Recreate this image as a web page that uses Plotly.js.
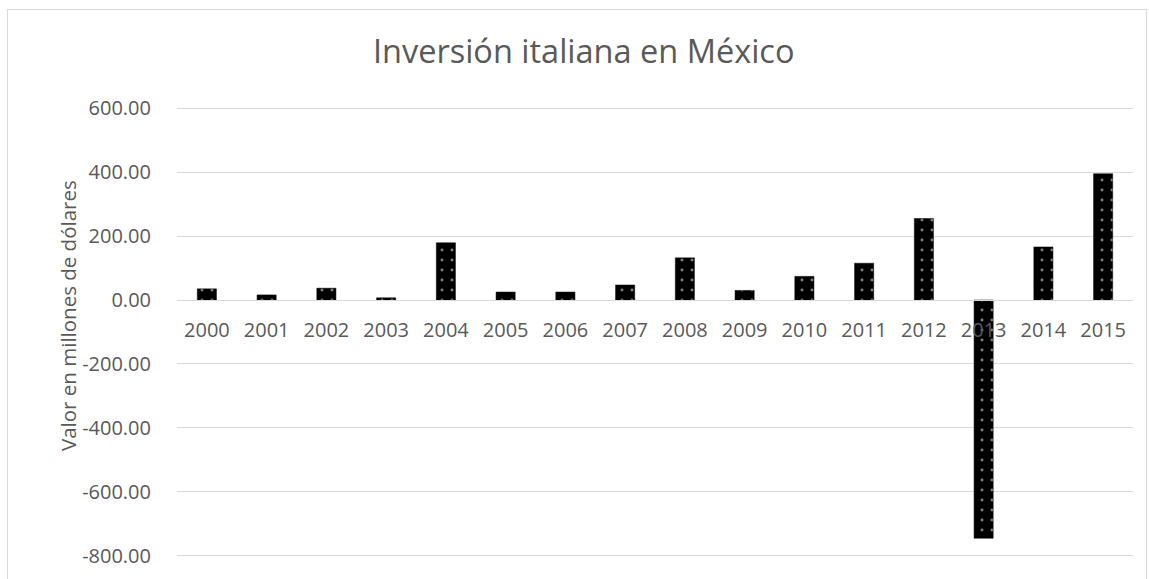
<!DOCTYPE html>
<html>
<head>
<meta charset="utf-8">
<script src="https://cdn.plot.ly/plotly-3.0.1.min.js"></script>
<style>
  html, body { margin: 0; padding: 0; background: #ffffff; }
  #wrap { position: relative; width: 1149px; height: 579px; overflow: hidden; }
  #chart { position: absolute; left: 0; top: 0; width: 1149px; height: 579px; }
  #frame { position: absolute; left: 7px; top: 9px; width: 1140px; height: 600px;
           border: 1px solid #d9d9d9; box-sizing: border-box; pointer-events: none; }
</style>
</head>
<body>
<div id="wrap">
  <div id="chart"></div>
  <div id="frame"></div>
</div>
<script>
const years = ["2000","2001","2002","2003","2004","2005","2006","2007","2008","2009","2010","2011","2012","2013","2014","2015"];
const inversion = [35, 16, 37, 7, 179, 25, 25, 47, 132, 30, 74, 115, 255, -745, 166, 395];
const yTickVals = [600, 400, 200, 0, -200, -400, -600, -800];
const yTickText = ["600.00", "400.00", "200.00", "0.00", "-200.00", "-400.00", "-600.00", "-800.00"];
const chartTitle = "Inversión italiana en México";
const yTitle = "Valor en millones de dólares";
const yRange = [-810, 610];

const textColor = "#595959";
const gridColor = "#d9d9d9";
const fontFamily = "'Open Sans', 'Noto Sans', sans-serif";

const trace = {
  type: "bar",
  x: years,
  y: inversion,
  marker: {
    color: "#000000",
    line: { color: "#000000", width: 0.5 },
    pattern: { shape: ".", fgcolor: "#ffffff", bgcolor: "#000000", size: 10, solidity: 0.07, fillmode: "overlay" }
  },
  hoverinfo: "x+y"
};

const W = 1149, H = 579;
const M = { l: 177, r: 16, t: 105, b: 20 };
const plotW = W - M.l - M.r, plotH = H - M.t - M.b;
const zeroFrac = (0 - yRange[0]) / (yRange[1] - yRange[0]);

const layout = {
  width: W,
  height: H,
  margin: M,
  paper_bgcolor: "#ffffff",
  plot_bgcolor: "#ffffff",
  showlegend: false,
  bargap: 0.68,
  font: { family: fontFamily, color: textColor, size: 20 },
  title: {
    text: chartTitle,
    font: { family: fontFamily, size: 32.5, color: textColor },
    x: 0.508, xanchor: "center",
    y: 0.91, yanchor: "middle"
  },
  xaxis: {
    type: "category",
    anchor: "free",
    position: zeroFrac,
    showline: true,
    linecolor: gridColor,
    linewidth: 1,
    showgrid: false,
    ticks: "",
    tickfont: { family: fontFamily, size: 20, color: textColor },
    ticklabelstandoff: 12
  },
  yaxis: {
    range: yRange,
    tickmode: "array",
    tickvals: yTickVals,
    ticktext: yTickText,
    showgrid: true,
    gridcolor: gridColor,
    gridwidth: 1,
    zeroline: false,
    showline: false,
    ticks: "",
    tickfont: { family: fontFamily, size: 20, color: textColor },
    ticklabelstandoff: 25
  },
  annotations: [{
    text: yTitle,
    xref: "paper", yref: "paper",
    x: (68 - M.l) / plotW,
    y: (H - M.b - 316) / plotH,
    xanchor: "center", yanchor: "middle",
    textangle: -90,
    showarrow: false,
    font: { family: fontFamily, size: 20.5, color: textColor }
  }]
};

Plotly.newPlot("chart", [trace], layout, { displayModeBar: false, staticPlot: true });
</script>
</body>
</html>
